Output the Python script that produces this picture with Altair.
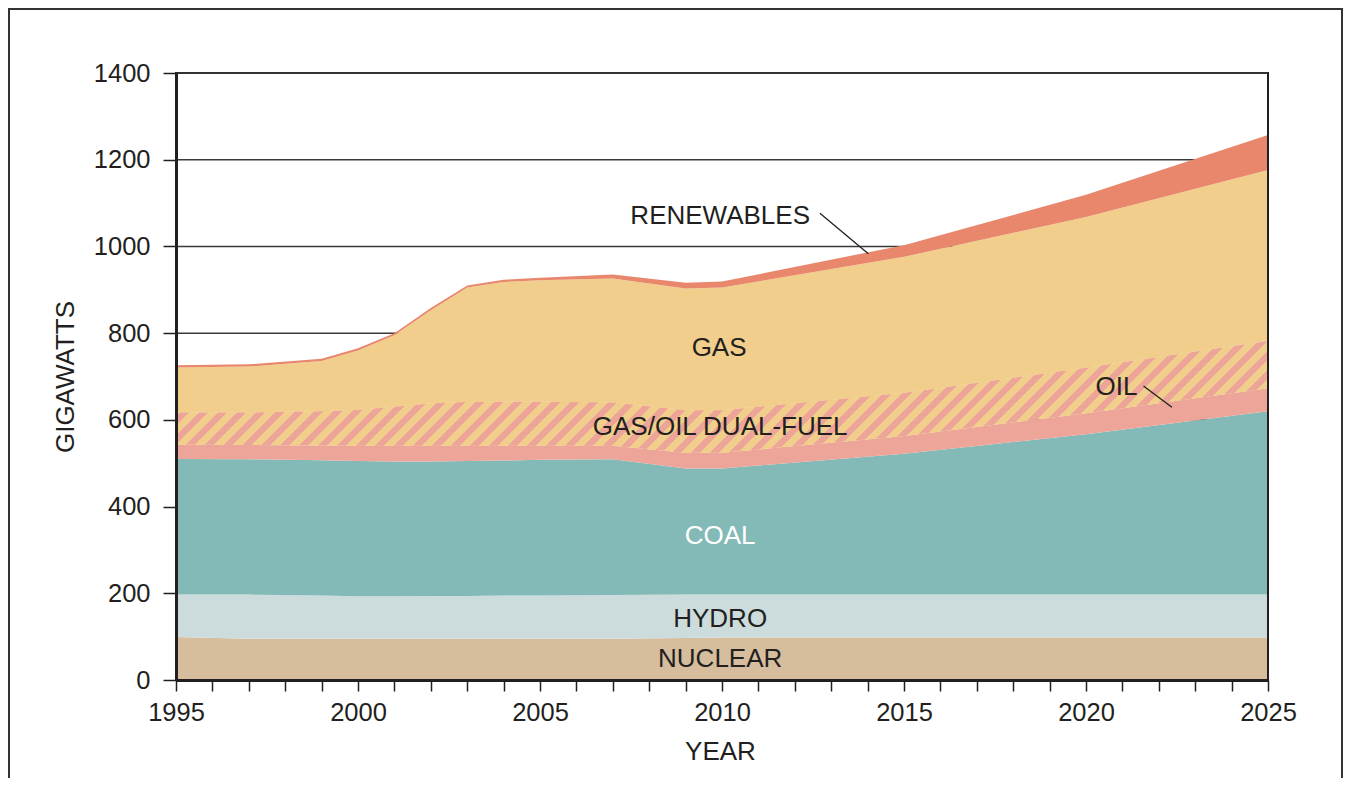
import altair as alt
import pandas as pd

# ---- data (GW) ----
years = [1995, 1997, 1999, 2000, 2001, 2002, 2003, 2004, 2005, 2007, 2009, 2010, 2015, 2020, 2025]
nuclear = [99, 95, 95, 95, 95, 95, 95, 95, 95, 95, 97, 98, 98, 98, 98]
hydro = [98, 102, 100, 98, 98, 99, 99, 100, 100, 101, 100, 99, 99, 99, 99]
coal = [313, 312, 312, 312, 311, 310, 311, 311, 313, 313, 291, 291, 325, 370, 423]
oil = [33, 33, 34, 35, 36, 36, 35, 34, 32, 31, 36, 36, 41, 48, 53]
dual_fuel = [74, 75, 79, 83, 90, 98, 101, 102, 102, 100, 98, 98, 99, 105, 109]
gas = [104, 106, 116, 137, 165, 215, 264, 276, 280, 286, 281, 283, 314, 348, 394]
renewables = [5, 5, 5, 5, 5, 5, 5, 5, 6, 9, 13, 14, 27, 51, 81]

series_names = ["NUCLEAR", "HYDRO", "COAL", "OIL", "GAS/OIL DUAL-FUEL", "GAS", "RENEWABLES"]
series_vals = [nuclear, hydro, coal, oil, dual_fuel, gas, renewables]
series_colors = ["#D6BD9E", "#CCDCDC", "#83BAB7", "#ECA598", "#F1CE8B", "#F1CE8B", "#E8876C"]

label_text = ["RENEWABLES", "GAS", "GAS/OIL DUAL-FUEL", "OIL", "COAL", "HYDRO", "NUCLEAR"]
label_year = [2009.95, 2009.92, 2009.95, 2020.84, 2009.95, 2009.95, 2009.95]
label_gw = [1070.6, 766.2, 584.2, 676.5, 332.1, 140.7, 48.4]
label_color = ["#231f20", "#231f20", "#231f20", "#231f20", "#ffffff", "#231f20", "#231f20"]

leader_year = [2012.69, 2021.58]
leader_gw = [1076.6, 678.3]
leader_year2 = [2014.02, 2022.36]
leader_gw2 = [982.9, 629.2]

y_ticks = [0, 200, 400, 600, 800, 1000, 1200, 1400]
x_ticks = list(range(1995, 2026))

# ---- tables ----
rows = []
for i, yr in enumerate(years):
    for k, (name, vals) in enumerate(zip(series_names, series_vals)):
        rows.append({"year": yr, "series": name, "order": k, "value": vals[i]})
df = pd.DataFrame(rows)

labels_df = pd.DataFrame({"text": label_text, "year": label_year, "gw": label_gw, "col": label_color})
leaders_df = pd.DataFrame({"year": leader_year, "gw": leader_gw, "year2": leader_year2, "gw2": leader_gw2})
grid_df = pd.DataFrame({"gw": y_ticks})

W, H = 1092, 607
FONT = "Liberation Sans"
DARK = "#231f20"

xs = alt.Scale(domain=[1995, 2025], nice=False, zero=False)
ys = alt.Scale(domain=[0, 1400], nice=False)

x_axis = alt.Axis(
    values=x_ticks, format="d", labelFlush=False,
    labelExpr="datum.value % 5 === 0 ? datum.label : ''",
    title="YEAR", titleX=544, titleY=71, titleBaseline="middle",
    tickSize=11, tickWidth=1.5, tickColor=DARK, labelPadding=9,
    domainWidth=3, domainColor=DARK, grid=False, zindex=1)
y_axis = alt.Axis(
    values=y_ticks, format="d", labelFlush=False,
    title="GIGAWATTS", titleX=-111, titleY=303.5,
    titleBaseline="middle", titleAngle=270,
    tickSize=13, tickWidth=1.5, tickColor=DARK, labelPadding=13,
    domainWidth=3, domainColor=DARK, grid=False, zindex=1)

# ---- hatch pattern as a hard-stop linear gradient (45 degree stripes) ----
oil_top = [a + b + c + d for a, b, c, d in zip(nuclear, hydro, coal, oil)]
dual_top = [a + b for a, b in zip(oil_top, dual_fuel)]
bh = (max(dual_top) - min(oil_top)) * H / 1400.0
r = bh / W
s = (1 + r) / (1 + r * r)
period = 19.0 / (W + bh)
pink, yellow = "#ECA598", "#F1CE8B"
stops = []
k = 0
while k * period < 1:
    a = k * period
    b = min(a + 0.47 * period, 1.0)
    c = min((k + 1) * period, 1.0)
    stops += [alt.GradientStop(offset=a, color=pink), alt.GradientStop(offset=b, color=pink),
              alt.GradientStop(offset=b, color=yellow), alt.GradientStop(offset=c, color=yellow)]
    k += 1
hatch = alt.Gradient(gradient="linear", stops=stops, x1=0, y1=0, x2=s, y2=s * r)

gridlines = alt.Chart(grid_df).mark_rule(color="#3a3a3a", strokeWidth=1.5).encode(
    y=alt.Y("gw:Q", scale=ys, axis=y_axis),
    x=alt.value(0), x2=alt.value(W),
)

stacked = alt.Chart(df).transform_stack(
    stack="value", groupby=["year"], as_=["y0", "y1"],
    sort=[alt.SortField("order", order="ascending")]
)

areas = stacked.mark_area(interpolate="linear").encode(
    x=alt.X("year:Q", scale=xs, axis=x_axis),
    y=alt.Y("y1:Q", stack=None, scale=ys, axis=y_axis),
    y2="y0:Q",
    color=alt.Color("series:N", scale=alt.Scale(domain=series_names, range=series_colors), legend=None),
    order=alt.Order("order:Q"),
)

hatched = stacked.transform_filter(alt.datum.series == "GAS/OIL DUAL-FUEL").mark_area(
    interpolate="linear", fill=hatch
).encode(
    x=alt.X("year:Q", scale=xs, axis=x_axis),
    y=alt.Y("y1:Q", stack=None, scale=ys, axis=y_axis),
    y2="y0:Q",
)

texts = alt.Chart(labels_df).mark_text(
    font=FONT, fontSize=26, align="center", baseline="middle"
).encode(
    x=alt.X("year:Q", scale=xs, axis=x_axis),
    y=alt.Y("gw:Q", scale=ys, axis=y_axis),
    text="text:N",
    color=alt.Color("col:N", scale=None),
)

leaders = alt.Chart(leaders_df).mark_rule(color=DARK, strokeWidth=1.3).encode(
    x=alt.X("year:Q", scale=xs, axis=x_axis),
    y=alt.Y("gw:Q", scale=ys, axis=y_axis),
    x2="year2:Q",
    y2="gw2:Q",
)

right_edge = alt.Chart(pd.DataFrame({"a": [0]})).mark_rule(color=DARK, strokeWidth=2).encode(
    x=alt.value(W), y=alt.value(0), y2=alt.value(H)
)

frame = alt.Chart(pd.DataFrame({"a": [0]})).mark_rect(
    fillOpacity=0, stroke="#333333", strokeWidth=2
).encode(
    x=alt.value(-167), x2=alt.value(1166), y=alt.value(-64), y2=alt.value(760)
)

chart = alt.layer(frame, gridlines, areas, hatched, leaders, texts, right_edge).properties(
    width=W, height=H,
    autosize=alt.AutoSizeParams(type="none"),
    padding={"left": 168, "top": 65, "right": 75, "bottom": 98},
    background="white",
).configure_view(
    stroke=DARK, strokeWidth=2
).configure_axis(
    labelFont=FONT, labelFontSize=25.5, labelColor=DARK,
    titleFont=FONT, titleFontSize=26, titleColor=DARK, titleFontWeight="normal",
)

chart.save("out.html", embed_options={"renderer": "svg", "actions": False})
